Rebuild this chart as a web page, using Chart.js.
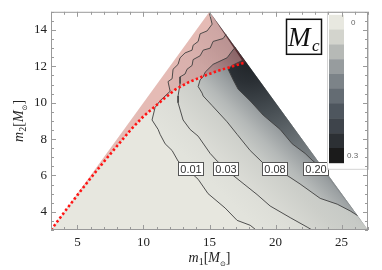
<!DOCTYPE html>
<html>
<head>
<meta charset="utf-8">
<script src="https://cdn.jsdelivr.net/npm/chart.js@4/dist/chart.umd.min.js"></script>
<style>
  html, body { margin: 0; padding: 0; background: #fff; }
</style>
</head>
<body>
<canvas id="chart" width="382" height="270"></canvas>
<script>
// ==============================
// Chirp mass error over (m1, m2)
// ==============================

const xRange = [3, 27];
const yRange = [3, 15];
const xTicks = [5, 10, 15, 20, 25];
const yTicks = [4, 6, 8, 10, 12, 14];

// allowed region: m2 <= m1, m1 + m2 <= 30
const region = [[3, 3], [15, 15], [27, 3], [3, 3]];

// red dotted boundary
const dottedCurve = [[3, 3], [4, 3.97], [5, 4.92], [6, 5.85], [7, 6.75], [8, 7.62], [9, 8.48],
  [10, 9.25], [10.8, 9.75], [11.6, 10.25], [12.4, 10.72], [13.4, 11.12], [14.5, 11.45],
  [15.5, 11.72], [16.6, 11.97], [17.75, 12.22]];

// contour lines
const contourLevels = ["0.01", "0.03", "0.08", "0.20"];
const contour001 = [[15.0, 14.9], [15.2, 14.32], [14.82, 13.95], [14.29, 13.79], [14.14, 13.37],
  [13.76, 13.16], [13.68, 12.89], [13.15, 12.74], [12.77, 12.47], [12.62, 12.11], [12.24, 11.84],
  [12.17, 11.32], [11.86, 11.16], [12.02, 10.63], [11.26, 10.11], [10.88, 9.74], [10.65, 9.05],
  [11.11, 8.53], [11.26, 8.26], [11.64, 7.74], [12.17, 7.37], [12.62, 6.79], [14.14, 5.79],
  [14.89, 5.0], [16.18, 4.21], [17.09, 3.53], [18.08, 3.26], [18.53, 3.0]];
const contour003 = [[16.25, 13.75], [16.03, 13.53], [15.27, 13.37], [15.05, 13.0], [14.52, 12.89],
  [14.29, 12.58], [13.76, 12.37], [13.68, 12.05], [13.3, 11.84], [13.15, 11.58], [12.77, 11.42],
  [12.77, 11.05], [12.62, 10.37], [12.62, 10.0], [13.0, 9.05], [13.53, 8.53], [14.14, 8.16],
  [15.05, 7.21], [15.58, 6.79], [16.79, 6.0], [18.6, 4.95], [19.59, 4.32], [21.11, 3.68],
  [22.39, 3.16], [22.77, 3.0]];
const contour008 = [[16.95, 13.05], [16.71, 12.84], [16.33, 12.47], [15.27, 12.11], [14.67, 11.68],
  [14.52, 11.42], [14.29, 11.26], [14.14, 10.89], [14.44, 10.53], [14.52, 10.37], [15.2, 9.84],
  [16.33, 8.95], [17.09, 8.26], [18.08, 7.37], [19.06, 6.68], [20.88, 6.0], [21.86, 5.53],
  [23.38, 4.74], [24.67, 4.42], [25.65, 4.05], [26.2, 3.8]];
const contour020 = [[17.47, 12.32], [16.71, 12.05], [16.41, 11.84], [16.79, 11.26], [17.17, 10.74],
  [18.08, 10.1], [19.06, 9.32], [20.35, 8.53], [21.26, 7.74], [22.24, 7.21], [22.77, 6.84],
  [23.38, 6.47]];
const contours = [contour001, contour003, contour008, contour020];

// contour label positions
const labelX = [13.57, 16.22, 19.97, 23.04];
const labelY = 6.34;

// colour bar
const barColors = ["#e8e8e0", "#d3d4cd", "#b6b9b6", "#979c9e", "#7c8388",
  "#646c73", "#4e565e", "#3e444b", "#2c3034", "#1b1b1b"];
const barLabels = ["0", "0.3"];

const toPts = arr => arr.map(p => ({ x: p[0], y: p[1] }));

// -----------------------------
// Fill styles for the bands
// -----------------------------

// linear shade running up-right at 45 degrees from the lower-left corner
function linearShade(stops) {
  return function (context) {
    const chart = context.chart;
    const x = chart.scales.x, y = chart.scales.y;
    if (!x || !y || !chart.chartArea) return stops[0][1];
    const x0 = x.getPixelForValue(region[0][0]), y0 = y.getPixelForValue(region[0][1]);
    const xt = x.getPixelForValue(region[1][0]), yt = y.getPixelForValue(region[1][1]);
    const L = ((xt - x0) - (yt - y0)) / Math.SQRT2;
    const g = chart.ctx.createLinearGradient(x0, y0, x0 + L / Math.SQRT2, y0 - L / Math.SQRT2);
    stops.forEach(s => g.addColorStop(s[0], s[1]));
    return g;
  };
}

// radial shade around the end of the dotted curve
function radialShade(stops, radius) {
  return function (context) {
    const chart = context.chart;
    const x = chart.scales.x, y = chart.scales.y;
    if (!x || !y || !chart.chartArea) return stops[0][1];
    const end = dottedCurve[dottedCurve.length - 1];
    const cx = x.getPixelForValue(end[0]) + 4, cy = y.getPixelForValue(end[1]) - 4;
    const g = chart.ctx.createRadialGradient(cx, cy, 0, cx, cy, radius);
    stops.forEach(s => g.addColorStop(s[0], s[1]));
    return g;
  };
}

const bandFills = [
  linearShade([[0, "#e2e3dc"], [0.55, "#e2e3dc"], [0.66, "#dcddd7"], [0.85, "#d6d8d3"], [0.97, "#c8cbc8"], [1, "#c4c7c5"]]),
  linearShade([[0, "#dadbd5"], [0.64, "#dadbd5"], [0.76, "#cccec9"], [0.83, "#c7cac6"], [0.92, "#b6b9b7"], [1, "#a8acac"]]),
  linearShade([[0, "#c7cac6"], [0.74, "#c7cac6"], [0.8, "#b5b9b8"], [0.86, "#9ba0a2"], [0.92, "#7d8386"], [1, "#60666a"]]),
  radialShade([[0, "#1e2226"], [0.18, "#2b3035"], [0.42, "#474e53"], [0.72, "#6c7377"], [1, "#878c8f"]], 135)
];

// each band: contour line closed along the right edge of the region
const bands = contours.map(c => c.concat([region[2], region[1]]));

const redRegion = [[3, 3], [15, 15]].concat(dottedCurve.slice().reverse());

// -----------------------------
// Plugins
// -----------------------------

function richText(ctx, parts, cx, cy) {
  let w = 0;
  parts.forEach(p => { ctx.font = p[1]; p.w = ctx.measureText(p[0]).width; w += p.w; });
  let px = cx - w / 2;
  parts.forEach(p => { ctx.font = p[1]; ctx.fillText(p[0], px, cy + p[2]); px += p.w; });
}

const decorPlugin = {
  id: "decor",
  afterDatasetsDraw(chart) {
    const { ctx, scales: { x, y } } = chart;
    ctx.save();
    ctx.font = '11px "Liberation Sans", Arial, sans-serif';
    ctx.textAlign = "center";
    ctx.textBaseline = "middle";
    contourLevels.forEach((lab, i) => {
      const px = Math.round(x.getPixelForValue(labelX[i]));
      const py = Math.round(y.getPixelForValue(labelY));
      ctx.fillStyle = "#fff";
      ctx.fillRect(px - 12.5, py - 6.5, 25, 13);
      ctx.strokeStyle = "#555";
      ctx.lineWidth = 1;
      ctx.strokeRect(px - 12.5, py - 6.5, 25, 13);
      ctx.fillStyle = "#333";
      ctx.fillText(lab, px, py + 0.5);
    });
    ctx.restore();
  },
  afterDraw(chart) {
    const { ctx, chartArea: a, scales: { x, y } } = chart;
    ctx.save();

    // colour bar panel
    const bx = a.right - 41, by = a.top;
    ctx.fillStyle = "#fff";
    ctx.fillRect(bx, by, 41, 157);
    ctx.strokeStyle = "#d4d4d4";
    ctx.lineWidth = 1;
    ctx.strokeRect(bx + 0.5, by + 0.5, 41, 157);
    const bh = 14.8;
    barColors.forEach((c, i) => {
      ctx.fillStyle = c;
      ctx.fillRect(bx + 2, by + 3 + i * bh, 15, bh + 0.4);
    });
    ctx.fillStyle = "#666";
    ctx.font = '8px "Liberation Sans", Arial, sans-serif';
    ctx.textAlign = "left";
    ctx.textBaseline = "middle";
    ctx.fillText(barLabels[0], bx + 24, by + 11);
    ctx.fillText(barLabels[1], bx + 20, by + 144);

    // M_c box
    const mx = bx - 41, my = a.top + 7;
    ctx.fillStyle = "#fff";
    ctx.fillRect(mx, my, 36, 36);
    ctx.strokeStyle = "#111";
    ctx.lineWidth = 1.5;
    ctx.strokeRect(mx + 0.5, my + 0.5, 35, 35);
    ctx.fillStyle = "#111";
    ctx.textAlign = "left";
    ctx.textBaseline = "alphabetic";
    ctx.font = 'italic 27px "Liberation Serif", "DejaVu Serif", serif';
    ctx.fillText("M", mx + 2, my + 27);
    ctx.font = 'italic 17px "Liberation Serif", "DejaVu Serif", serif';
    ctx.fillText("c", mx + 26, my + 32);

    // frame and inward ticks
    ctx.strokeStyle = "#9a9a9a";
    ctx.lineWidth = 1;
    ctx.strokeRect(a.left + 0.5, a.top + 0.5, a.right - a.left - 1, a.bottom - a.top - 1);
    ctx.beginPath();
    for (let v = xRange[0]; v <= xRange[1]; v += 1) {
      const px = Math.round(x.getPixelForValue(v)) + 0.5;
      const len = xTicks.includes(v) ? 5 : 3;
      ctx.moveTo(px, a.bottom); ctx.lineTo(px, a.bottom - len);
      ctx.moveTo(px, a.top); ctx.lineTo(px, a.top + len);
    }
    for (let v = yRange[0]; v <= yRange[1]; v += 0.5) {
      const py = Math.round(y.getPixelForValue(v)) + 0.5;
      const len = yTicks.includes(v) ? 5 : 3;
      ctx.moveTo(a.left, py); ctx.lineTo(a.left + len, py);
      ctx.moveTo(a.right, py); ctx.lineTo(a.right - len, py);
    }
    ctx.stroke();

    // axis titles
    ctx.fillStyle = "#222";
    ctx.textAlign = "left";
    ctx.textBaseline = "alphabetic";
    const serif = '"Liberation Serif", "DejaVu Serif", serif';
    const title = n => [
      ["m", "italic 14px " + serif, 0],
      [n, "10px " + serif, 3],
      ["[", "14px " + serif, 0],
      ["M", "italic 14px " + serif, 0],
      ["\u2299", '7px "DejaVu Sans", sans-serif', 4],
      ["]", "14px " + serif, 0]
    ];
    richText(ctx, title("1"), (a.left + a.right) / 2, 262);
    ctx.translate(23, (a.top + a.bottom) / 2);
    ctx.rotate(-Math.PI / 2);
    richText(ctx, title("2"), 0, 0);
    ctx.restore();
  }
};

// -----------------------------
// Chart
// -----------------------------

const lineStyle = { showLine: true, pointRadius: 0, borderColor: "#3e3e3e", borderWidth: 0.9, fill: false, order: 3 };
const shapeStyle = { showLine: true, pointRadius: 0, borderColor: "transparent", fill: "shape" };

new Chart(document.getElementById("chart"), {
  type: "scatter",
  data: {
    datasets: [
      {
        data: toPts(dottedCurve),
        showLine: true, pointRadius: 0, fill: false,
        borderColor: "#ff1414", borderWidth: 2.6, borderDash: [2.4, 2.4],
        order: 1
      },
      ...contours.map(c => Object.assign({ data: toPts(c) }, lineStyle)),
      Object.assign({ data: toPts(redRegion), backgroundColor: "rgba(225, 60, 60, 0.26)", order: 8 }, shapeStyle),
      ...bands.map((b, i) => Object.assign({ data: toPts(b), backgroundColor: bandFills[i], order: 12 - i }, shapeStyle)),
      Object.assign({ data: toPts(region), backgroundColor: "#e7e7df", order: 20 }, shapeStyle)
    ]
  },
  options: {
    responsive: false,
    animation: false,
    devicePixelRatio: 1,
    layout: { padding: { left: 0, right: 14, top: 2, bottom: 0 } },
    plugins: { legend: { display: false }, tooltip: { enabled: false } },
    scales: {
      x: {
        type: "linear", min: xRange[0], max: xRange[1],
        grid: { display: false, drawTicks: false }, border: { display: false },
        afterBuildTicks: s => { s.ticks = xTicks.map(v => ({ value: v })); },
        afterFit: s => { s.height = 40; },
        ticks: { padding: 5, color: "#222", font: { family: "'Liberation Serif', serif", size: 13 } }
      },
      y: {
        type: "linear", min: yRange[0], max: yRange[1],
        grid: { display: false, drawTicks: false }, border: { display: false },
        afterBuildTicks: s => { s.ticks = yTicks.map(v => ({ value: v })); },
        afterFit: s => { s.width = 51; },
        ticks: { padding: 4, color: "#222", font: { family: "'Liberation Serif', serif", size: 13 } }
      }
    }
  },
  plugins: [decorPlugin]
});
</script>
</body>
</html>
